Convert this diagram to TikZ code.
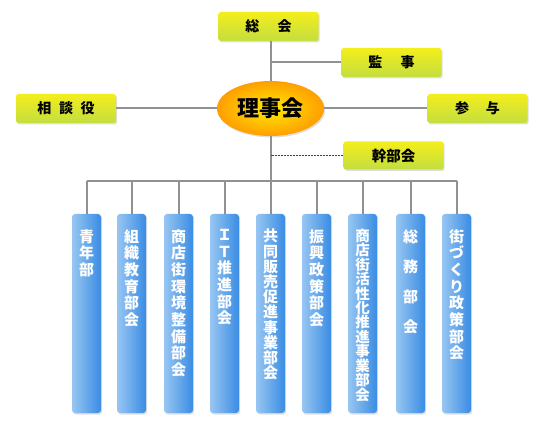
\documentclass[tikz,border=0pt]{standalone}
\usepackage{fontspec}
\setmainfont{Noto Sans CJK JP}
\usetikzlibrary{shadows,shapes.geometric}
\definecolor{lineg}{RGB}{145,145,145}
\definecolor{ytop}{RGB}{244,238,28}
\definecolor{ybot}{RGB}{194,222,64}
\definecolor{bleft}{RGB}{152,198,242}
\definecolor{bright}{RGB}{58,140,228}
\definecolor{oin}{RGB}{255,236,0}
\definecolor{oout}{RGB}{255,158,0}
\begin{document}
\begin{tikzpicture}[x=1pt,y=-1pt,
  ybox/.style={rounded corners=2.5pt, top color=ytop, bottom color=ybot,
    minimum width=100pt, minimum height=29pt, inner sep=0pt,
    font=\fontsize{14}{16}\selectfont\bfseries,
    drop shadow={opacity=0.25, shadow xshift=1.2pt, shadow yshift=-1.5pt}},
  colbox/.style={rounded corners=3pt, left color=bleft, right color=bright,
    minimum width=29pt, minimum height=199pt, inner sep=0pt,
    drop shadow={opacity=0.25, shadow xshift=1.2pt, shadow yshift=-1.5pt}},
  coltext/.style={anchor=north, inner sep=0pt, align=center, text=white,
    font=\fontsize{15}{16.7}\selectfont\bfseries},
  conn/.style={draw=lineg, line width=2pt},
  dconn/.style={draw=black!75, line width=1pt, dash pattern=on 2pt off 1pt}]
\useasboundingbox (0,0) rectangle (540,430);
\fill[white] (0,0) rectangle (540,430);

% top boxes
\node[ybox] (soukai) at (268.5,26.5) {総\hspace{1.3em}会};
\node[ybox] (kanji) at (391.5,62.5) {監\hspace{1.3em}事};
\node[ybox] (sanyo) at (477.5,108.5) {参\hspace{1.2em}与};
\node[ybox] (soudan) at (66,108.5) {相\hspace{0.55em}談\hspace{0.55em}役};
\node[ybox, minimum height=28pt, font=\fontsize{14.5}{16}\selectfont\bfseries] (kanbu) at (393.5,155.5) {幹部会};
\node[ellipse, minimum width=107pt, minimum height=55pt, inner sep=0pt,
  inner color=oin, outer color=oout,
  drop shadow={opacity=0.25, shadow xshift=1.2pt, shadow yshift=-1.5pt},
  font=\fontsize{22}{24}\selectfont\bfseries] (riji) at (270.5,108.5) {理事会};

% columns
\foreach \i/\x in {1/86.5,2/131.5,3/178.5,4/224.5,5/270.5,6/316.5,7/362.5,8/410.5,9/456.5}
  \node[colbox] (c\i) at (\x,313.5) {};

\node[coltext] (t1) at (c1.north |- 0,229) {青\\年\\部};
\node[coltext] (t2) at (c2.north |- 0,229) {組\\織\\教\\育\\部\\会};
\node[coltext] (t3) at (c3.north |- 0,229) {商\\店\\街\\環\\境\\整\\備\\部\\会};
\node[coltext] (t4) at (c4.north |- 0,229) {Ｉ\\Ｔ\\推\\進\\部\\会};
\node[coltext, font=\fontsize{15}{15.2}\selectfont\bfseries] (t5) at (c5.north |- 0,229) {共\\同\\販\\売\\促\\進\\事\\業\\部\\会};
\node[coltext] (t6) at (c6.north |- 0,229) {振\\興\\政\\策\\部\\会};
\node[coltext, font=\fontsize{14.5}{14.4}\selectfont\bfseries] (t7) at (c7.north |- 0,229) {商\\店\\街\\活\\性\\化\\推\\進\\事\\業\\部\\会};
\node[coltext, font=\fontsize{15}{30}\selectfont\bfseries] (t8) at (c8.north |- 0,229) {総\\務\\部\\会};
\node[coltext] (t9) at (c9.north |- 0,229) {街\\づ\\く\\り\\政\\策\\部\\会};

% connectors
\coordinate (bar) at (270.5,181);
\draw[conn] (riji.north |- soukai.south) -- (riji.north);
\draw[conn] (kanji.west) -- (kanji.west -| riji.north);
\draw[conn] (soudan.east) -- (riji.west);
\draw[conn] (riji.east) -- (sanyo.west);
\draw[conn] (riji.south) -- (bar);
\draw[dconn] (kanbu.west) -- (kanbu.west -| riji.south);
\draw[conn] (bar -| c1.north) -- (bar -| c9.north);
\foreach \i in {1,...,9}
  \draw[conn] (bar -| c\i.north) -- (c\i.north);
\end{tikzpicture}
\end{document}
